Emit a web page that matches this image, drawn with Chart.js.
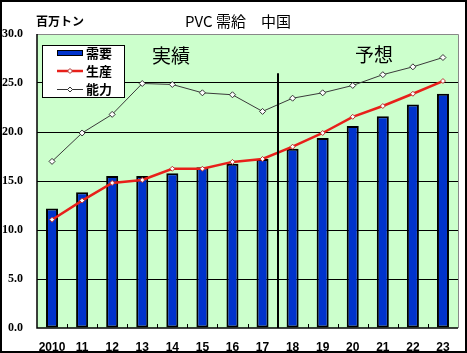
<!DOCTYPE html>
<html><head><meta charset="utf-8">
<script src="https://cdn.jsdelivr.net/npm/chart.js@4/dist/chart.umd.min.js"></script>
<style>html,body{margin:0;padding:0;background:#fff;}canvas{display:block;}</style>
</head><body>
<div style="width:467px;height:353px;position:relative;"><canvas id="c" width="467" height="353"></canvas></div>
<script>
const categories = ["2010","11","12","13","14","15","16","17","18","19","20","21","22","23"];
const demand     = [12.2, 13.85, 15.5, 15.5, 15.8, 16.4, 16.75, 17.25, 18.3, 19.4, 20.6, 21.6, 22.8, 23.9];
const production = [11.05, 13.0, 14.8, 15.1, 16.25, 16.25, 16.95, 17.25, 18.5, 19.9, 21.55, 22.65, 23.9, 25.2];
const capacity   = [17.0, 19.9, 21.8, 24.95, 24.85, 24.0, 23.8, 22.1, 23.45, 24.0, 24.75, 25.85, 26.65, 27.6];
const yTicks = [0, 5, 10, 15, 20, 25, 30];
const seriesNames = ["需要", "生産", "能力"];
const titleText = "PVC 需給　中国";
const unitText = "百万トン";
const actualText = "実績";
const forecastText = "予想";
const splitAfterIndex = 7;

const deco = {
  id: 'deco',
  beforeDraw(chart) {
    const {ctx, chartArea: a} = chart;
    ctx.save();
    ctx.fillStyle = '#fff';
    ctx.fillRect(0, 0, chart.width, chart.height);
    ctx.fillStyle = '#CCFFCC';
    ctx.fillRect(a.left, a.top, a.right - a.left, a.bottom - a.top);
    ctx.strokeStyle = '#888';
    ctx.lineWidth = 1;
    ctx.beginPath();
    ctx.moveTo(a.left, a.top + 0.5); ctx.lineTo(a.right + 0.5, a.top + 0.5); ctx.lineTo(a.right + 0.5, a.bottom);
    ctx.stroke();
    ctx.restore();
  },
  afterDatasetsDraw(chart) {
    const {ctx, chartArea: a, scales: {x, y}} = chart;
    ctx.save();
    ctx.strokeStyle = '#000';
    ctx.lineWidth = 1.5;
    ctx.beginPath();
    ctx.moveTo(a.left, a.top); ctx.lineTo(a.left, a.bottom); ctx.lineTo(a.right, a.bottom);
    ctx.stroke();
    ctx.lineWidth = 1;
    ctx.beginPath();
    for (let i = 0; i < categories.length - 1; i++) {
      const px = Math.round((x.getPixelForValue(i) + x.getPixelForValue(i + 1)) / 2) + 0.5;
      ctx.moveTo(px, a.bottom); ctx.lineTo(px, a.bottom - 4);
    }
    ctx.stroke();
    const sx = Math.round((x.getPixelForValue(splitAfterIndex) + x.getPixelForValue(splitAfterIndex + 1)) / 2);
    ctx.lineWidth = 2;
    ctx.beginPath();
    ctx.moveTo(sx, y.getPixelForValue(26)); ctx.lineTo(sx, a.bottom);
    ctx.stroke();
    ctx.fillStyle = '#000';
    ctx.textBaseline = 'middle';
    ctx.textAlign = 'left';
    ctx.font = 'bold 12px "Noto Sans CJK JP"';
    ctx.fillText(unitText, 36, 21);
    ctx.font = '15px "Noto Sans CJK JP"';
    ctx.textAlign = 'center';
    ctx.fillText(titleText, 238, 21);
    ctx.font = '19px "Noto Sans CJK JP"';
    ctx.fillText(actualText, 171, 56);
    ctx.fillText(forecastText, 374, 55);
    const lx = 42, ly = 45, lw = 82, lh = 52;
    ctx.fillStyle = '#fff';
    ctx.fillRect(lx, ly, lw, lh);
    ctx.strokeStyle = '#000';
    ctx.lineWidth = 1;
    ctx.strokeRect(lx + 0.5, ly + 0.5, lw, lh);
    const rows = [53, 71, 89];
    ctx.fillStyle = '#000';
    ctx.fillRect(57, rows[0] - 3, 26, 6);
    ctx.fillStyle = '#0033CC';
    ctx.fillRect(58, rows[0] - 2, 24, 4);
    ctx.strokeStyle = '#E8201A'; ctx.lineWidth = 2.5;
    ctx.beginPath(); ctx.moveTo(57, rows[1]); ctx.lineTo(83, rows[1]); ctx.stroke();
    ctx.strokeStyle = '#333'; ctx.lineWidth = 1;
    ctx.beginPath(); ctx.moveTo(57, rows[2] + 0.5); ctx.lineTo(83, rows[2] + 0.5); ctx.stroke();
    const diamond = (cx, cy, r, stroke) => {
      ctx.beginPath();
      ctx.moveTo(cx, cy - r); ctx.lineTo(cx + r, cy); ctx.lineTo(cx, cy + r); ctx.lineTo(cx - r, cy); ctx.closePath();
      ctx.fillStyle = '#fff'; ctx.fill();
      ctx.strokeStyle = stroke; ctx.lineWidth = 1; ctx.stroke();
    };
    diamond(70, rows[1], 2.5, '#a33');
    diamond(70, rows[2] + 0.5, 2.5, '#333');
    ctx.fillStyle = '#000';
    ctx.textAlign = 'left';
    ctx.font = 'bold 13px "Noto Sans CJK JP"';
    seriesNames.forEach((n, i) => ctx.fillText(n, 86, rows[i]));
    ctx.strokeStyle = '#000'; ctx.lineWidth = 2;
    ctx.strokeRect(1, 1, chart.width - 2, chart.height - 2);
    ctx.restore();
  }
};

new Chart(document.getElementById('c'), {
  data: {
    labels: categories,
    datasets: [
      { type: 'line', label: seriesNames[2], data: capacity, order: 0,
        borderColor: '#3a3a3a', borderWidth: 1, tension: 0,
        pointStyle: 'rectRot', pointRadius: 3, pointBackgroundColor: '#fff', pointBorderColor: '#333', pointBorderWidth: 1 },
      { type: 'line', label: seriesNames[1], data: production, order: 0,
        borderColor: '#E8201A', borderWidth: 2.5, tension: 0,
        pointStyle: 'rectRot', pointRadius: 2.5, pointBackgroundColor: '#fff', pointBorderColor: '#b33', pointBorderWidth: 1 },
      { type: 'bar', label: seriesNames[0], data: demand, order: 1,
        backgroundColor: '#0033CC', borderColor: '#000', borderWidth: 2, borderSkipped: false,
        categoryPercentage: 1, barPercentage: 0.4 }
    ]
  },
  options: {
    responsive: false, animation: false,
    devicePixelRatio: 1,
    layout: { padding: { left: 0, top: 34, right: 9, bottom: 0 } },
    plugins: { legend: { display: false }, tooltip: { enabled: false }, title: { display: false } },
    scales: {
      x: {
        type: 'category', offset: true,
        grid: { display: false },
        border: { display: false },
        ticks: { color: '#000', padding: 4, maxRotation: 0, autoSkip: false,
          font: { family: '"Liberation Sans Narrow", "Liberation Sans"', weight: 'bold', size: 12 } },
        afterFit(s) { s.height = 25; }
      },
      y: {
        min: 0, max: 30,
        afterBuildTicks(s) { s.ticks = yTicks.map(v => ({ value: v })); },
        grid: { color: ctx => (ctx.tick && (ctx.tick.value === 0 || ctx.tick.value === 30)) ? 'rgba(0,0,0,0)' : '#000', lineWidth: 1, drawTicks: false },
        border: { display: false },
        ticks: { color: '#000', padding: 14, callback: v => Number(v).toFixed(1),
          font: { family: '"Liberation Serif"', weight: 'bold', size: 12 } },
        afterFit(s) { s.width = 37; }
      }
    }
  },
  plugins: [deco]
});
</script>
</body></html>
